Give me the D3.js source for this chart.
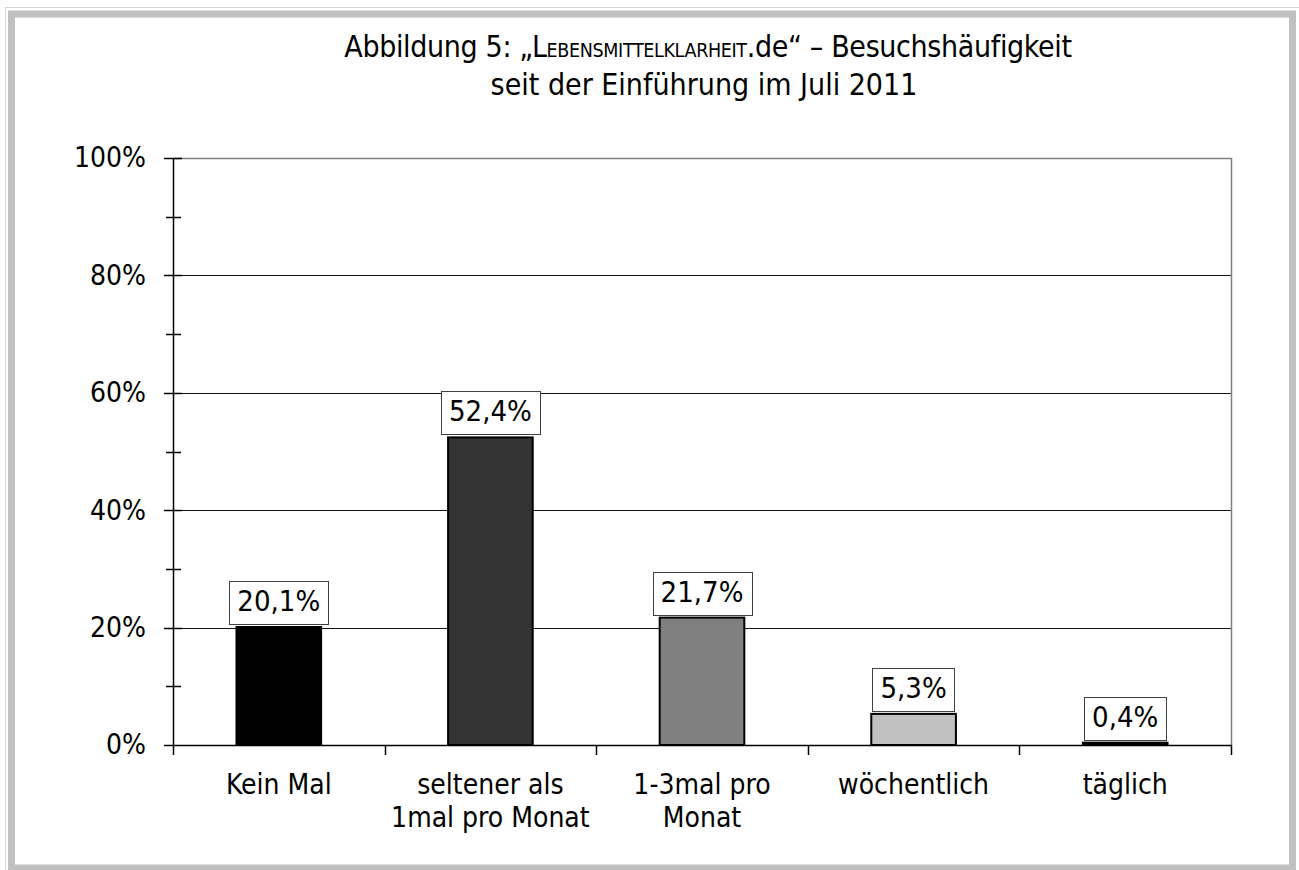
<html>
<head>
<meta charset="utf-8">
<script src="https://d3js.org/d3.v7.min.js"></script>
<style>
  body { margin: 0; background: #fff; }
  text { font-family: "DejaVu Sans Condensed", "DejaVu Sans", Verdana, sans-serif; font-stretch: condensed; fill: #000; }
</style>
</head>
<body>
<div id="chart-container"></div>
<script>
// chart data
const categoryLines = [["Kein Mal"], ["seltener als", "1mal pro Monat"], ["1-3mal pro", "Monat"], ["wöchentlich"], ["täglich"]];
const values = [20.1, 52.4, 21.7, 5.3, 0.4];
const valueLabels = ["20,1%", "52,4%", "21,7%", "5,3%", "0,4%"];
const barColors = ["#000000", "#333333", "#808080", "#c0c0c0", "#000000"];
const yMajorTicks = [0, 20, 40, 60, 80, 100];
const yMinorTicks = [10, 30, 50, 70, 90];

const width = 1299, height = 870;
const plot = { left: 173, right: 1231, top: 158, bottom: 745 };
const fontFam = "'DejaVu Sans Condensed', 'DejaVu Sans', Verdana, sans-serif";

const svg = d3.select("#chart-container")
  .append("svg")
  .attr("width", width)
  .attr("height", height);

// outer frame
svg.append("line").attr("x1", 5).attr("y1", 7.5).attr("x2", width).attr("y2", 7.5)
  .attr("stroke", "#d4d4d4").attr("stroke-width", 1);
svg.append("line").attr("x1", 5.5).attr("y1", 7).attr("x2", 5.5).attr("y2", height)
  .attr("stroke", "#d4d4d4").attr("stroke-width", 1);
svg.append("rect")
  .attr("x", 11.5).attr("y", 14)
  .attr("width", 1281).attr("height", 854)
  .attr("fill", "none").attr("stroke", "#c0c0c0").attr("stroke-width", 7);

// title (small caps for the site name)
const title = svg.append("text")
  .attr("x", 708).attr("y", 57)
  .attr("text-anchor", "middle")
  .attr("font-size", 30)
  .attr("letter-spacing", -0.35);
title.append("tspan").text("Abbildung 5: „L");
title.append("tspan").attr("font-size", 19.5).text("EBENSMITTELKLARHEIT");
title.append("tspan").text(".de“ – Besuchshäufigkeit");
svg.append("text")
  .attr("x", 704).attr("y", 95)
  .attr("text-anchor", "middle")
  .attr("font-size", 30)
  .text("seit der Einführung im Juli 2011");

// scales
const x = d3.scaleBand()
  .domain(d3.range(values.length))
  .range([plot.left, plot.right])
  .paddingInner(0.6)
  .paddingOuter(0.3);
const xEdge = d3.scaleLinear().domain([0, values.length]).range([plot.left, plot.right]);
const y = d3.scaleLinear().domain([0, 100]).range([plot.bottom, plot.top]);

// gridlines
svg.append("g")
  .selectAll("line")
  .data(yMajorTicks.filter(d => d > 0 && d < 100))
  .enter()
  .append("line")
  .attr("x1", plot.left).attr("x2", plot.right)
  .attr("y1", d => Math.round(y(d)) + 0.5).attr("y2", d => Math.round(y(d)) + 0.5)
  .attr("stroke", "#111").attr("stroke-width", 1);

// plot border top / right
svg.append("path")
  .attr("d", `M${plot.left},${Math.round(y(100)) + 0.5}H${plot.right + 0.5}V${plot.bottom}`)
  .attr("fill", "none").attr("stroke", "#808080").attr("stroke-width", 1.5);

// bars
svg.append("g")
  .selectAll("rect")
  .data(values)
  .enter()
  .append("rect")
  .attr("x", (d, i) => x(i))
  .attr("y", d => y(d))
  .attr("width", x.bandwidth())
  .attr("height", d => y(0) - y(d))
  .attr("fill", (d, i) => barColors[i])
  .attr("stroke", "#000").attr("stroke-width", 2);

// y axis labels
const yAxis = svg.append("g")
  .attr("transform", `translate(${plot.left},0)`)
  .call(d3.axisLeft(y).tickValues(yMajorTicks).tickFormat(d => d + "%").tickSize(0).tickPadding(27));
yAxis.select(".domain").remove();
yAxis.selectAll("text").attr("font-size", 28).attr("fill", "#000")
  .style("font-family", fontFam).style("font-stretch", "condensed");

// y axis line and ticks
svg.append("line")
  .attr("x1", plot.left + 0.5).attr("x2", plot.left + 0.5)
  .attr("y1", y(100)).attr("y2", y(0) + 1)
  .attr("stroke", "#000").attr("stroke-width", 1.5);
svg.append("g").selectAll("line")
  .data(yMajorTicks).enter().append("line")
  .attr("x1", plot.left - 9).attr("x2", d => d === 0 ? plot.left : plot.left + 9)
  .attr("y1", d => Math.round(y(d)) + 0.5).attr("y2", d => Math.round(y(d)) + 0.5)
  .attr("stroke", "#000").attr("stroke-width", 1.5);
svg.append("g").selectAll("line")
  .data(yMinorTicks).enter().append("line")
  .attr("x1", plot.left - 7).attr("x2", plot.left + 8)
  .attr("y1", d => Math.round(y(d)) + 0.5).attr("y2", d => Math.round(y(d)) + 0.5)
  .attr("stroke", "#000").attr("stroke-width", 1.5);

// x axis line and ticks
svg.append("line")
  .attr("x1", plot.left).attr("x2", plot.right + 1)
  .attr("y1", Math.round(y(0)) + 0.5).attr("y2", Math.round(y(0)) + 0.5)
  .attr("stroke", "#000").attr("stroke-width", 1.5);
svg.append("g").selectAll("line")
  .data(d3.range(values.length + 1)).enter().append("line")
  .attr("x1", d => Math.round(xEdge(d)) + 0.5).attr("x2", d => Math.round(xEdge(d)) + 0.5)
  .attr("y1", y(0)).attr("y2", y(0) + 10)
  .attr("stroke", "#000").attr("stroke-width", 1.5);

// category labels
const catLabels = svg.append("g").selectAll("text")
  .data(categoryLines).enter().append("text")
  .attr("x", (d, i) => x(i) + x.bandwidth() / 2)
  .attr("y", 794)
  .attr("text-anchor", "middle")
  .attr("font-size", 28)
  .attr("fill", "#111");
catLabels.selectAll("tspan")
  .data(d => d).enter().append("tspan")
  .attr("x", function () { return d3.select(this.parentNode).attr("x"); })
  .attr("dy", (d, j) => j === 0 ? 0 : 33)
  .text(d => d);

// value labels with boxes
const labelG = svg.append("g").selectAll("g")
  .data(values).enter().append("g");
labelG.append("text")
  .attr("x", (d, i) => x(i) + x.bandwidth() / 2)
  .attr("y", d => y(d) - 16)
  .attr("text-anchor", "middle")
  .attr("font-size", 29)
  .text((d, i) => valueLabels[i]);
labelG.each(function () {
  const g = d3.select(this);
  const bb = g.select("text").node().getBBox();
  g.insert("rect", "text")
    .attr("x", Math.round(bb.x - 8) + 0.5)
    .attr("y", Math.round(bb.y - 3) + 0.5)
    .attr("width", Math.round(bb.width + 16))
    .attr("height", Math.round(bb.height + 9))
    .attr("fill", "#fff")
    .attr("stroke", "#404040").attr("stroke-width", 1);
});
</script>
</body>
</html>
